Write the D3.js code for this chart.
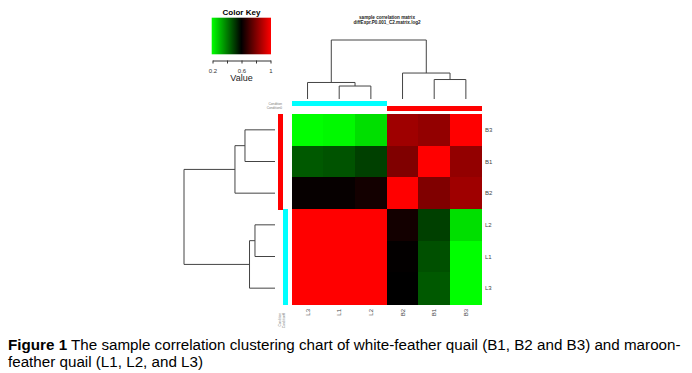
<!DOCTYPE html>
<html lang="en">
<head>
<meta charset="utf-8">
<title>Sample correlation heatmap</title>
<script src="https://cdn.jsdelivr.net/npm/d3@7"></script>
<style>
  body { margin: 0; background: #fff; }
  svg { display: block; font-family: "Liberation Sans", Arial, sans-serif; }
</style>
</head>
<body>
<script>
// samples in the order the heatmap shows them
const rowLabels = ["B3", "B1", "B2", "L2", "L1", "L3"];
const colLabels = ["L3", "L1", "L2", "B2", "B1", "B3"];

// correlation values, one array per row (columns in colLabels order)
const corrB3 = [0.20, 0.21, 0.25, 0.85, 0.83, 1.00];
const corrB1 = [0.46, 0.47, 0.50, 0.80, 1.00, 0.83];
const corrB2 = [0.61, 0.61, 0.63, 1.00, 0.80, 0.85];
const corrL2 = [1.00, 1.00, 1.00, 0.63, 0.50, 0.25];
const corrL1 = [1.00, 1.00, 1.00, 0.605, 0.475, 0.20];
const corrL3 = [1.00, 1.00, 1.00, 0.60, 0.46, 0.20];
const corrValues = [corrB3, corrB1, corrB2, corrL2, corrL1, corrL3];

// hierarchical clustering merges (height relative to the root)
const dendroMerges = [
  { id: "m1", children: ["L1", "L2"], height: 0.22 },
  { id: "m2", children: ["L3", "m1"], height: 0.28 },
  { id: "m3", children: ["B1", "B3"], height: 0.33 },
  { id: "m4", children: ["B2", "m3"], height: 0.44 },
  { id: "root", children: ["m2", "m4"], height: 1.00 }
];

// colour key
const keyTicks = [0.2, 0.4, 0.6, 0.8, 1.0];
const keyTickLabels = ["0.2", "", "0.6", "", "1"];

const titleLines = ["sample correlation matrix", "diffExpr.P0.001_C2.matrix.log2"];
const sideLabels = ["Condition", "Condition0"];
const groupColor = { L: "#00ffff", B: "#ff0000" };

const W = 692, H = 373;
const svg = d3.select("body").append("svg")
  .attr("width", W)
  .attr("height", H);

svg.append("rect").attr("width", W).attr("height", H).attr("fill", "#fff");

const color = d3.scaleLinear()
  .domain([0.2, 0.6, 1])
  .range(["#00ff00", "#000000", "#ff0000"])
  .clamp(true);

const xScale = d3.scaleBand().domain(colLabels).range([291.7, 481.7]);
const yScale = d3.scaleBand().domain(rowLabels).range([114, 304]);
const bw = xScale.bandwidth(), bh = yScale.bandwidth();

// heatmap cells
const rows = svg.append("g")
  .attr("shape-rendering", "crispEdges")
  .selectAll("g")
  .data(corrValues)
  .join("g")
  .attr("transform", (d, i) => `translate(0,${yScale(rowLabels[i])})`);

rows.selectAll("rect")
  .data(d => d)
  .join("rect")
  .attr("x", (d, j) => xScale(colLabels[j]))
  .attr("width", bw + 0.5)
  .attr("height", bh + 0.5)
  .attr("fill", d => color(d));

// row / column labels
svg.append("g").selectAll("text")
  .data(rowLabels)
  .join("text")
  .attr("x", 485)
  .attr("y", d => yScale(d) + bh / 2)
  .attr("dy", "0.35em")
  .attr("font-size", 6)
  .attr("fill", "#444")
  .text(d => d);

svg.append("g").selectAll("text")
  .data(colLabels)
  .join("text")
  .attr("transform", d => `translate(${xScale(d) + bw / 2},309) rotate(-90)`)
  .attr("dy", "0.35em")
  .attr("text-anchor", "end")
  .attr("font-size", 6)
  .attr("fill", "#444")
  .text(d => d);

// side colour bars
const sideBars = svg.append("g").attr("shape-rendering", "crispEdges");
sideBars.selectAll("rect.col")
  .data(colLabels)
  .join("rect")
  .attr("class", "col")
  .attr("x", d => xScale(d))
  .attr("y", d => d[0] === "L" ? 101 : 106)
  .attr("width", bw + 0.5)
  .attr("height", 5)
  .attr("fill", d => groupColor[d[0]]);

sideBars.selectAll("rect.row")
  .data(rowLabels)
  .join("rect")
  .attr("class", "row")
  .attr("x", d => d[0] === "B" ? 278 : 283)
  .attr("y", d => yScale(d))
  .attr("width", 5)
  .attr("height", bh + 0.5)
  .attr("fill", d => groupColor[d[0]]);

svg.append("g").selectAll("text")
  .data(sideLabels)
  .join("text")
  .attr("x", 282)
  .attr("y", (d, i) => 105 + i * 3.5)
  .attr("text-anchor", "end")
  .attr("font-size", 3.2)
  .attr("fill", "#777")
  .text(d => d);

svg.append("g").selectAll("text")
  .data(sideLabels)
  .join("text")
  .attr("transform", (d, i) => `translate(${281 + i * 3.5},313) rotate(-90)`)
  .attr("text-anchor", "end")
  .attr("font-size", 3.2)
  .attr("fill", "#777")
  .text(d => d);

// dendrograms
const mergeById = new Map(dendroMerges.map(m => [m.id, m]));
function nodeHeight(id) { return mergeById.has(id) ? mergeById.get(id).height : 0; }
function nodePos(id, band) {
  if (!mergeById.has(id)) return band(id) + band.bandwidth() / 2;
  const [a, b] = mergeById.get(id).children;
  return (nodePos(a, band) + nodePos(b, band)) / 2;
}

const colH = d3.scaleLinear().domain([0, 1]).range([99, 40]);
const rowH = d3.scaleLinear().domain([0, 1]).range([275, 184]);

svg.append("g")
  .attr("fill", "none")
  .attr("stroke", "#444")
  .attr("stroke-width", 1)
  .selectAll("path")
  .data(dendroMerges)
  .join("path")
  .attr("d", m => {
    const [a, b] = m.children;
    const p = d3.path();
    p.moveTo(nodePos(a, xScale), colH(nodeHeight(a)));
    p.lineTo(nodePos(a, xScale), colH(m.height));
    p.lineTo(nodePos(b, xScale), colH(m.height));
    p.lineTo(nodePos(b, xScale), colH(nodeHeight(b)));
    return p.toString();
  });

svg.append("g")
  .attr("fill", "none")
  .attr("stroke", "#444")
  .attr("stroke-width", 1)
  .selectAll("path")
  .data(dendroMerges)
  .join("path")
  .attr("d", m => {
    const [a, b] = m.children;
    const p = d3.path();
    p.moveTo(rowH(nodeHeight(a)), nodePos(a, yScale));
    p.lineTo(rowH(m.height), nodePos(a, yScale));
    p.lineTo(rowH(m.height), nodePos(b, yScale));
    p.lineTo(rowH(nodeHeight(b)), nodePos(b, yScale));
    return p.toString();
  });

// title over the column dendrogram
svg.append("g").selectAll("text")
  .data(titleLines)
  .join("text")
  .attr("x", 387)
  .attr("y", (d, i) => 19.3 + i * 5)
  .attr("text-anchor", "middle")
  .attr("font-size", 4.6)
  .attr("font-weight", "bold")
  .attr("fill", "#222")
  .text(d => d);

// colour key
const keyX = d3.scaleLinear().domain([0.2, 1]).range([212.5, 270.5]);
const defs = svg.append("defs");
const grad = defs.append("linearGradient").attr("id", "keygrad");
grad.selectAll("stop")
  .data(d3.range(0, 1.0001, 0.05))
  .join("stop")
  .attr("offset", d => d)
  .attr("stop-color", d => color(0.2 + d * 0.8));

const key = svg.append("g");
key.append("rect")
  .attr("x", keyX(0.2) - 0.8)
  .attr("y", 17.7)
  .attr("width", keyX(1) - keyX(0.2) + 1.3)
  .attr("height", 36.6)
  .attr("fill", "url(#keygrad)");

key.append("g")
  .attr("transform", "translate(0,60.5)")
  .call(d3.axisBottom(keyX).tickValues(keyTicks).tickSize(3).tickSizeOuter(0)
    .tickFormat((d, i) => keyTickLabels[i]))
  .call(g => g.selectAll("path, line").attr("stroke", "#333"))
  .call(g => g.selectAll("text").attr("font-size", 6).attr("fill", "#333")
    .attr("font-family", "Liberation Sans, Arial, sans-serif")
    .attr("y", 12).attr("dy", 0));

key.append("text")
  .attr("x", 241.5)
  .attr("y", 14.5)
  .attr("text-anchor", "middle")
  .attr("font-size", 8)
  .attr("font-weight", "bold")
  .text("Color Key");

key.append("text")
  .attr("x", 241.5)
  .attr("y", 81)
  .attr("text-anchor", "middle")
  .attr("font-size", 9)
  .attr("fill", "#222")
  .text("Value");

// figure caption
const cap1 = svg.append("text")
  .attr("x", 8)
  .attr("y", 350)
  .attr("font-size", 15.2);
cap1.append("tspan").attr("font-weight", "bold").text("Figure 1");
cap1.append("tspan").text(" The sample correlation clustering chart of white-feather quail (B1, B2 and B3) and maroon-");

svg.append("text")
  .attr("x", 8)
  .attr("y", 366.5)
  .attr("font-size", 15.2)
  .text("feather quail (L1, L2, and L3)");
</script>
</body>
</html>
